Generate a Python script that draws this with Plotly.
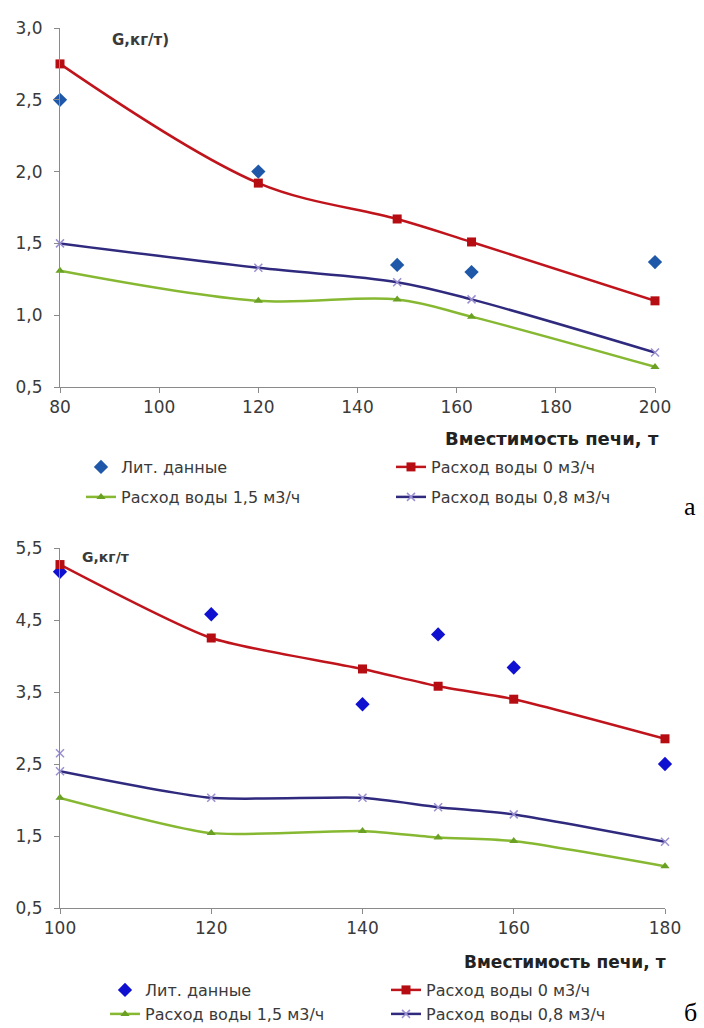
import plotly.graph_objects as go

# ---------- data: chart (а) ----------
a_x = [80, 120, 148, 163, 200]
a_lit = [2.50, 2.00, 1.35, 1.30, 1.37]
a_w0 = [2.75, 1.92, 1.67, 1.51, 1.10]
a_w15 = [1.31, 1.10, 1.11, 0.99, 0.64]
a_w08 = [1.50, 1.33, 1.23, 1.11, 0.74]
a_xticks = [80, 100, 120, 140, 160, 180, 200]
a_yticks = [0.5, 1.0, 1.5, 2.0, 2.5, 3.0]

# ---------- data: chart (б) ----------
b_x = [100, 120, 140, 150, 160, 180]
b_lit = [5.17, 4.58, 3.33, 4.30, 3.84, 2.50]
b_w0 = [5.27, 4.25, 3.82, 3.58, 3.40, 2.85]
b_w15 = [2.03, 1.54, 1.57, 1.48, 1.43, 1.08]
b_w08 = [2.40, 2.03, 2.03, 1.90, 1.80, 1.42]
b_stray_x = [100]
b_stray_y = [2.65]
b_xticks = [100, 120, 140, 160, 180]
b_yticks = [0.5, 1.5, 2.5, 3.5, 4.5, 5.5]

names = ["Лит. данные", "Расход воды 0 м3/ч", "Расход воды 1,5 м3/ч", "Расход воды 0,8 м3/ч"]
x_title = "Вместимость печи, т"

W, H = 704, 1028
def px(x):
    return x / W
def py(y):
    return 1 - y / H

FONT = "'DejaVu Sans', 'Open Sans', sans-serif"
BFONT = "'DejaVu Sans', 'Open Sans', sans-serif"
TXT = "#3a3a3a"
AX = "#8a8a8a"
RED = "#c0141c"
GREEN = "#86b832"
PURPLE = "#2f2a7e"

fig = go.Figure()

def add_set(xv, lit, w0, w15, w08, xa, ya, lg, blue, smooth, dsize):
    fig.add_trace(go.Scatter(x=xv, y=lit, mode="markers", name=names[0],
                             marker=dict(symbol="diamond", size=dsize, color=blue),
                             xaxis=xa, yaxis=ya, legend=lg[0], cliponaxis=False))
    fig.add_trace(go.Scatter(x=xv, y=w0, mode="lines+markers", name=names[1],
                             line=dict(color=RED, width=2.5, shape="spline", smoothing=smooth),
                             marker=dict(symbol="square", size=9, color="#b50d12"),
                             xaxis=xa, yaxis=ya, legend=lg[0], cliponaxis=False))
    fig.add_trace(go.Scatter(x=xv, y=w15, mode="lines+markers", name=names[2],
                             line=dict(color=GREEN, width=2.5, shape="spline", smoothing=smooth),
                             marker=dict(symbol="triangle-up", size=8, color="#6aa023"),
                             xaxis=xa, yaxis=ya, legend=lg[1], cliponaxis=False))
    fig.add_trace(go.Scatter(x=xv, y=w08, mode="lines+markers", name=names[3],
                             line=dict(color=PURPLE, width=2.5, shape="spline", smoothing=smooth),
                             marker=dict(symbol="x-thin", size=8, color="#9a8fd0",
                                         line=dict(width=1.5, color="#9a8fd0")),
                             xaxis=xa, yaxis=ya, legend=lg[1], cliponaxis=False))

add_set(a_x, a_lit, a_w0, a_w15, a_w08, "x", "y", ["legend", "legend2"], "#1f58a8", 1.0, 11)
add_set(b_x, b_lit, b_w0, b_w15, b_w08, "x2", "y2", ["legend3", "legend4"], "#1010d0", 0.6, 11)
fig.add_trace(go.Scatter(x=b_stray_x, y=b_stray_y, mode="markers", showlegend=False,
                         marker=dict(symbol="x-thin", size=8, color="#9a8fd0",
                                     line=dict(width=1.5, color="#9a8fd0")),
                         xaxis="x2", yaxis="y2", cliponaxis=False))

axis_common = dict(showgrid=False, zeroline=False, showline=True, linecolor=AX, linewidth=1,
                   ticks="outside", ticklen=5, tickcolor=AX, automargin=False,
                   tickfont=dict(family=FONT, size=17, color=TXT))

fig.update_layout(
    width=W, height=H, margin=dict(l=0, r=0, t=0, b=0, autoexpand=False),
    paper_bgcolor="white", plot_bgcolor="white",
    separators=", ",
    xaxis=dict(domain=[px(60), px(655)], range=[80, 200], tickvals=a_xticks, anchor="y", **axis_common),
    yaxis=dict(domain=[py(387), py(28)], range=[0.5, 3.0], tickvals=a_yticks, tickformat=".1f",
               anchor="x", ticklabelstandoff=8, **axis_common),
    xaxis2=dict(domain=[px(60), px(665)], range=[100, 180], tickvals=b_xticks, anchor="y2", **axis_common),
    yaxis2=dict(domain=[py(908), py(548)], range=[0.5, 5.5], tickvals=b_yticks, tickformat=".1f",
                anchor="x2", ticklabelstandoff=8, **axis_common),
)

leg_common = dict(orientation="h", xanchor="left", yanchor="middle", bgcolor="rgba(0,0,0,0)",
                  font=dict(family=FONT, size=16, color=TXT), entrywidthmode="pixels",
                  itemwidth=30, tracegroupgap=0)
fig.update_layout(
    legend=dict(x=px(81), y=py(467), entrywidth=265, **leg_common),
    legend2=dict(x=px(81), y=py(497), entrywidth=265, **leg_common),
    legend3=dict(x=px(105), y=py(990), entrywidth=236, **leg_common),
    legend4=dict(x=px(105), y=py(1014), entrywidth=236, **leg_common),
)

ann = [
    dict(text="<b>G,кг/т)</b>", x=px(110), y=py(40), xanchor="left", yanchor="middle",
         font=dict(family=BFONT, size=15, color=TXT)),
    dict(text="<b>G,кг/т</b>", x=px(80), y=py(557), xanchor="left", yanchor="middle",
         font=dict(family=BFONT, size=14, color=TXT)),
    dict(text="<b>" + x_title + "</b>", x=px(661), y=py(438), xanchor="right", yanchor="middle",
         font=dict(family=BFONT, size=18, color="#222222")),
    dict(text="<b>" + x_title + "</b>", x=px(668), y=py(962), xanchor="right", yanchor="middle",
         font=dict(family=BFONT, size=17, color="#222222")),
    dict(text="а", x=px(682), y=py(506), xanchor="left", yanchor="middle",
         font=dict(family="'Liberation Serif', serif", size=26, color="black")),
    dict(text="б", x=px(682), y=py(1012), xanchor="left", yanchor="middle",
         font=dict(family="'Liberation Serif', serif", size=26, color="black")),
]
for a in ann:
    a.update(xref="paper", yref="paper", showarrow=False)
fig.update_layout(annotations=ann)

fig.write_html("out.html")
